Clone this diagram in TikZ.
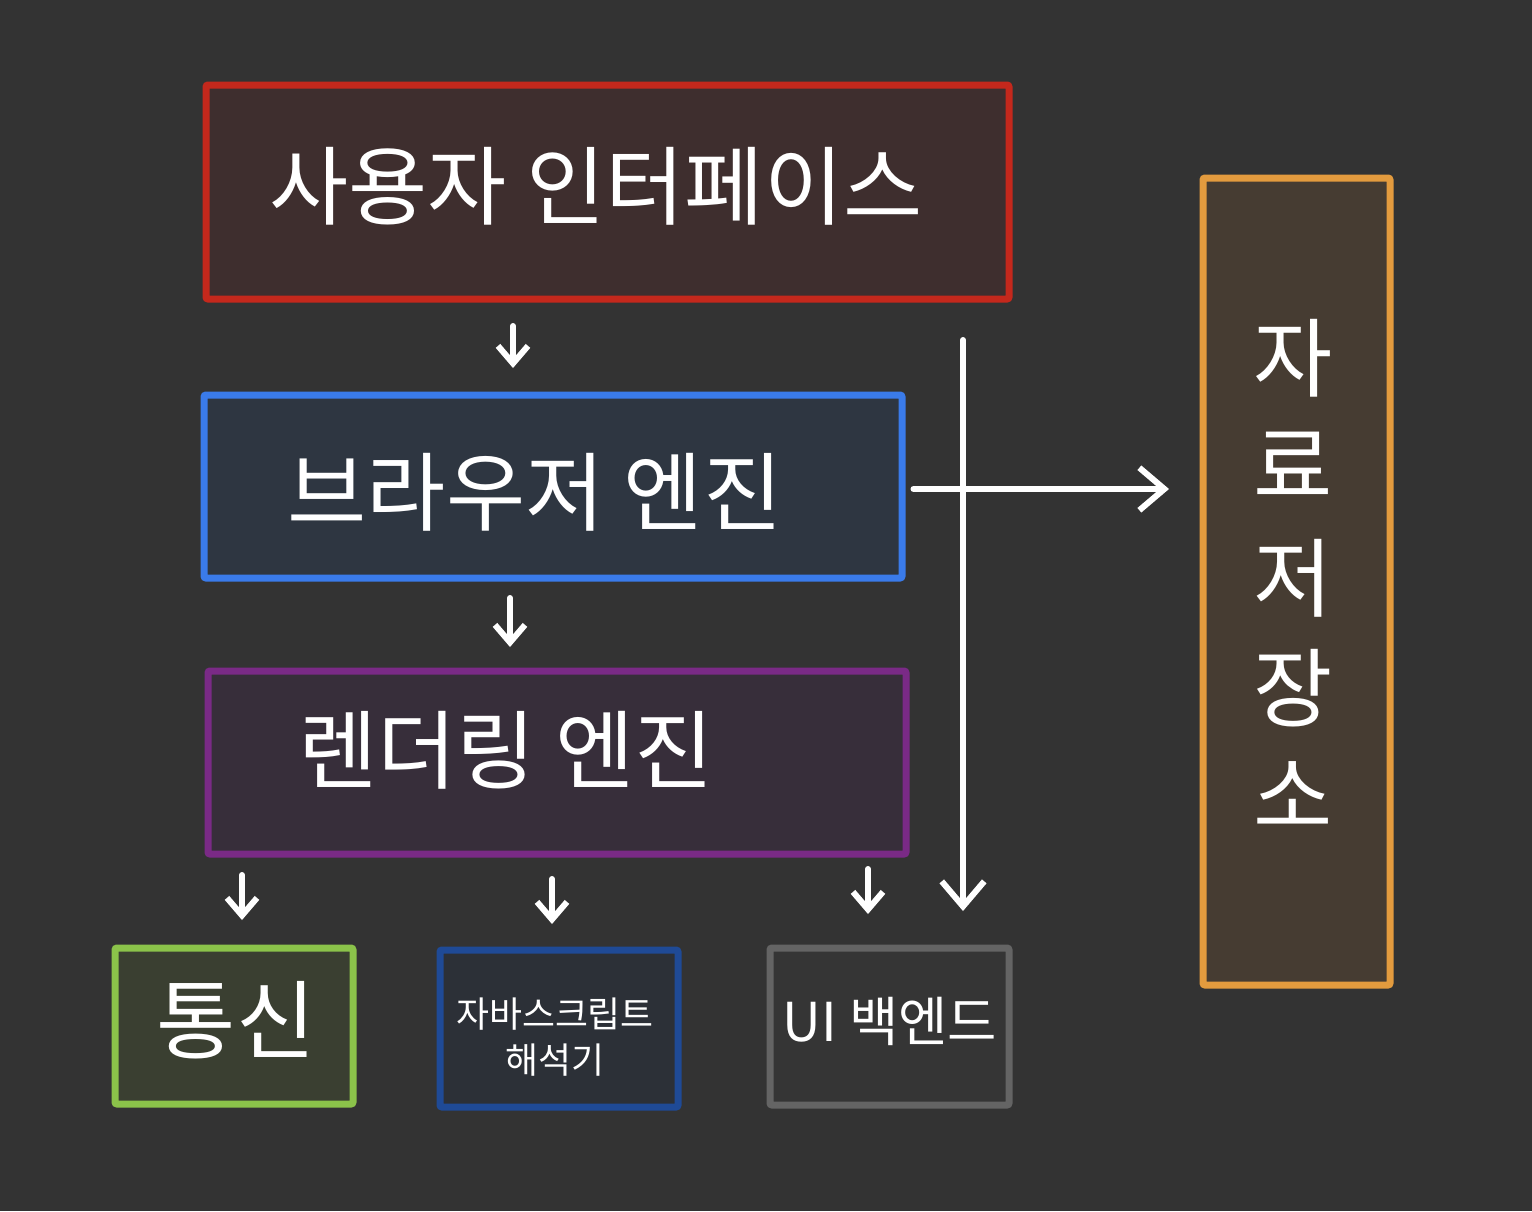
\documentclass[tikz,border=0pt]{standalone}
\usepackage{fontspec}
\setmainfont{Noto Sans CJK KR}
\usetikzlibrary{arrows.meta}
\definecolor{bg}{HTML}{333333}
\definecolor{redB}{HTML}{C4281C}\definecolor{redF}{HTML}{3E2E2E}
\definecolor{blueB}{HTML}{3A7BEA}\definecolor{blueF}{HTML}{2E3641}
\definecolor{purB}{HTML}{7A2A86}\definecolor{purF}{HTML}{372E3A}
\definecolor{grnB}{HTML}{8BC34A}\definecolor{grnF}{HTML}{3A3F31}
\definecolor{dbB}{HTML}{1F4A96}\definecolor{dbF}{HTML}{2C3037}
\definecolor{gryB}{HTML}{646464}\definecolor{gryF}{HTML}{353535}
\definecolor{orB}{HTML}{E39B3E}\definecolor{orF}{HTML}{463C32}
\tikzset{
  box/.style={draw, line width=0.14cm, rounded corners=0.04cm, inner sep=0pt},
  lbl/.style={text=white, inner sep=0pt},
  big/.style={lbl, font=\fontsize{49}{55}\selectfont},
  flow/.style={draw=white, line width=0.12cm, line cap=round, line join=round,
    -{Straight Barb[length=0.5cm, width=0.85cm, line width=0.12cm]}},
  small/.style={draw=white, line width=0.12cm, line cap=round, line join=round,
    -{Straight Barb[length=0.35cm, width=0.6cm, line width=0.12cm]}}
}
\begin{document}
\begin{tikzpicture}[x=0.02cm, y=-0.02cm]
\fill[bg] (0,0) rectangle (1532,1211);
\useasboundingbox (0,0) rectangle (1532,1211);
% boxes
\node[box, draw=redB, fill=redF, minimum width=803*0.02cm, minimum height=214*0.02cm] (ui) at (607.5,192) {};
\node[box, draw=blueB, fill=blueF, minimum width=698*0.02cm, minimum height=183*0.02cm] (be) at (553,486.5) {};
\node[box, draw=purB, fill=purF, minimum width=698*0.02cm, minimum height=183*0.02cm] (re) at (557,762.5) {};
\node[box, draw=grnB, fill=grnF, minimum width=238*0.02cm, minimum height=156*0.02cm] (net) at (234,1026) {};
\node[box, draw=dbB, fill=dbF, minimum width=238*0.02cm, minimum height=157*0.02cm] (js) at (559,1028.5) {};
\node[box, draw=gryB, fill=gryF, minimum width=239*0.02cm, minimum height=157*0.02cm] (uib) at (889.5,1026.5) {};
\node[box, draw=orB, fill=orF, minimum width=187*0.02cm, minimum height=807*0.02cm] (st) at (1296.5,581.5) {};
% labels
\node[big] (uiT) at (596,186) {사용자 인터페이스};
\node[big] (beT) at (535,492) {브라우저 엔진};
\node[big] (reT) at (506,750) {렌더링 엔진};
\node[big] (netT) at (236,1020) {통신};
\node[lbl, font=\fontsize{20.4}{26}\selectfont, align=center] (jsT) at (555,1037) {자바스크립트\\해석기};
\node[lbl, font=\fontsize{30.5}{34}\selectfont] (uibT) at (890,1021) {UI 백엔드};
\node[big] (s1) at (1293,358) {자};
\node[big] (s2) at (1293,465) {료};
\node[big] (s3) at (1293,578) {저};
\node[big] (s4) at (1293,688) {장};
\node[big] (s5) at (1293,795) {소};
% connector end points
\coordinate (a1s) at (513,326); \coordinate (a1e) at (513,368);
\coordinate (a2s) at (510,598); \coordinate (a2e) at (510,647);
\coordinate (a3s) at (242,875); \coordinate (a3e) at (242,920);
\coordinate (a4s) at (552,879); \coordinate (a4e) at (552,924);
\coordinate (a5s) at (868,869); \coordinate (a5e) at (868,914);
\coordinate (vs) at (963,340); \coordinate (ve) at (963,911);
\coordinate (he) at (1169,489);
% connectors
\draw[small] (a1s) -- (a1e);
\draw[small] (a2s) -- (a2e);
\draw[small] (a3s) -- (a3e);
\draw[small] (a4s) -- (a4e);
\draw[small] (a5s) -- (a5e);
\draw[flow] (vs) -- (ve);
\draw[flow] (be.east |- he) ++(8,0) -- (he);
\end{tikzpicture}
\end{document}
